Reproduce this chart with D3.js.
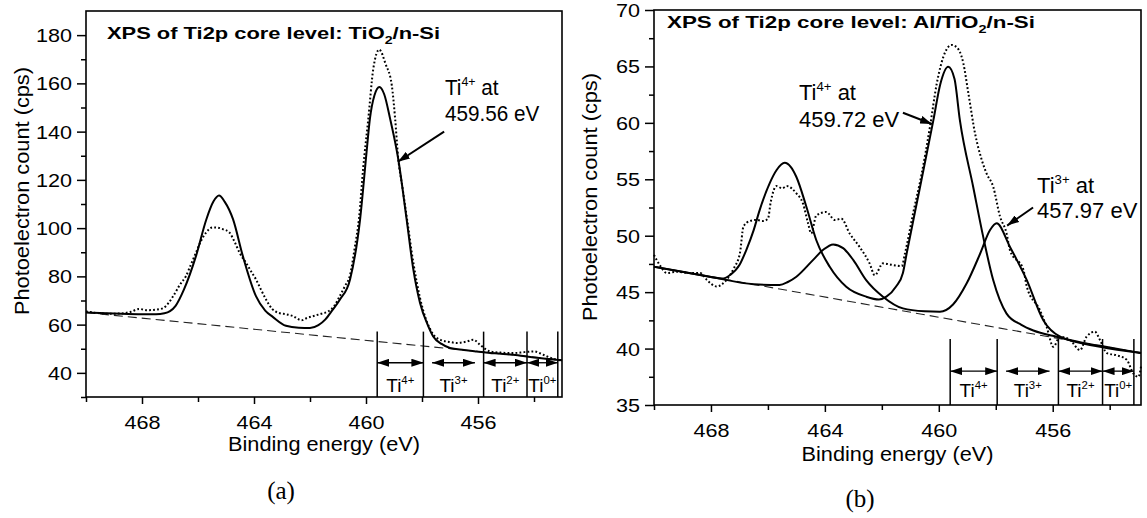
<!DOCTYPE html>
<html>
<head>
<meta charset="utf-8">
<script src="https://cdn.jsdelivr.net/npm/d3@7"></script>
<style>
body { margin: 0; background: #fff; }
text { font-family: "Liberation Sans", Arial, sans-serif; fill: #000; }
</style>
</head>
<body>
<svg id="chart" width="1147" height="518"></svg>
<script>
// ---- data ----
var energyMajor = [468, 464, 460, 456];
var energyMinor = [470, 466, 462, 458, 454];
var leftYMajor = [40, 60, 80, 100, 120, 140, 160, 180];
var leftYMinor = [30, 50, 70, 90, 110, 130, 150, 170];
var rightYMajor = [35, 40, 45, 50, 55, 60, 65, 70];
var rightYMinor = [37.5, 42.5, 47.5, 52.5, 57.5, 62.5, 67.5];

// (a) TiO2/n-Si : [binding energy, counts]
var leftData = [[470,65.5],[469.6,64.8],[469.2,64.5],[468.8,64.6],[468.4,65.3],[468.1,66.5],[467.8,66],[467.5,66.2],[467.25,66.8],[467.05,69],[466.85,72.5],[466.65,76.5],[466.43,80.1],[466.25,85],[466.07,89.9],[465.9,94.5],[465.71,98.2],[465.48,100.3],[465.3,100.2],[465.12,99.6],[464.88,98.2],[464.7,94.5],[464.52,89.9],[464.29,85.7],[464.1,82],[463.93,78.75],[463.75,74.5],[463.57,70.4],[463.35,66.5],[463.1,64.8],[462.85,64.3],[462.6,63.5],[462.3,61.8],[462.1,62.8],[461.9,63.5],[461.6,64.5],[461.35,65.5],[461.15,67.5],[460.93,72],[460.75,76],[460.57,80.5],[460.4,92],[460.25,104],[460.1,125],[459.92,145],[459.74,166],[459.53,174],[459.3,168],[459.08,159.3],[458.96,145.4],[458.85,129],[458.7,117],[458.55,105],[458.3,85],[458.07,71],[457.85,62],[457.6,56],[457.3,53.5],[457.0,52.8],[456.76,52.4],[456.4,53.0],[456.17,53.75],[455.93,51.7],[455.75,50],[455.57,48.9],[455.2,48.4],[454.74,48.2],[454.35,48.6],[454.0,48.9],[453.67,47.5],[453.4,46.2],[453.0,45.0]];
var leftFit = [[470,65.0],[469,64.6],[468,64.3],[467.5,64.3],[467.2,64.7],[467.0,65.6],[466.8,67.8],[466.5,74.6],[466.07,88.5],[465.7,103.7],[465.45,111],[465.25,113.5],[465.05,111],[464.75,103.7],[464.4,88.5],[463.93,71.8],[463.6,65.8],[463.33,63.2],[462.86,59.5],[462.4,58.7],[462.0,58.6],[461.7,59.8],[461.45,62.2],[461.2,66],[460.93,70.4],[460.57,78.75],[460.21,103.75],[459.98,131.5],[459.86,145.4],[459.7,155],[459.52,158.5],[459.35,155.5],[459.14,145.4],[458.85,128.75],[458.55,103.75],[458.31,82.9],[458.07,69],[457.8,60],[457.6,55.1],[457.3,52],[457.0,50.3],[456.5,49.5],[456.05,48.9],[455.4,48.1],[454.75,47.5],[454.0,46.4],[453.0,45.2]];
var leftBackground = [[470,65],[453,45.4]];

// (b) Al/TiO2/n-Si
var rightData = [[470,48.3],[469.8,47.4],[469.55,46.7],[469.2,46.8],[468.74,46.7],[468.38,46.7],[468.15,46.1],[467.8,45.5],[467.45,46.1],[467.2,47.1],[466.98,48.5],[466.86,50.8],[466.64,51.3],[466.4,51.4],[466.17,51.3],[466.0,51.5],[465.9,53.0],[465.7,54.4],[465.5,54.2],[465.34,54.4],[465.0,53.75],[464.77,52.86],[464.59,51.1],[464.48,50.2],[464.3,51.8],[463.95,52.1],[463.65,51.4],[463.42,51.5],[463.13,50.2],[462.78,49.0],[462.43,47.55],[462.25,46.5],[461.96,47.55],[461.61,47.4],[461.3,47.3],[461.19,48.4],[460.9,52.0],[460.6,55.5],[460.31,59.65],[460.07,63.5],[459.84,65.85],[459.55,66.9],[459.37,66.7],[459.14,65.3],[458.96,62.6],[458.73,59.1],[458.49,56.7],[458.32,55.5],[458.09,54.34],[457.85,51.7],[457.62,50.2],[457.5,48.7],[457.03,47.0],[456.91,45.5],[456.45,43.4],[456.21,41.9],[455.98,40.16],[455.74,41.05],[455.39,40.76],[455.04,39.87],[454.81,41.05],[454.52,41.5],[454.34,40.76],[454.1,39.6],[453.75,39.4],[453.4,39.0],[453.17,37.8],[452.99,37.5],[452.9,38.4]];
var rightTi4Fit = [[470,47.25],[469,46.8],[468,46.35],[467.6,46.2],[467.34,46.5],[467.0,47.4],[466.76,48.73],[466.5,50.5],[466.29,52.27],[465.94,54.64],[465.7,55.8],[465.41,56.46],[465.2,56.1],[465.0,55.2],[464.65,52.57],[464.3,49.6],[463.83,47.25],[463.25,45.48],[462.55,44.6],[462.1,44.35],[461.84,44.6],[461.5,45.5],[461.26,46.7],[461.13,48.4],[460.66,54.3],[460.19,60.24],[459.95,63.4],[459.67,64.97],[459.45,63.9],[459.26,60.24],[458.79,54.3],[458.44,49.9],[458.09,46.07],[457.62,43.1],[457.1,42.1],[456.68,41.6],[455.86,41.05],[455,40.55],[454,40.1],[452.9,39.6]];
var rightTi3Fit = [[470,47.25],[468,46.35],[466.5,45.7],[465.59,45.63],[465.3,45.9],[465.0,46.37],[464.42,47.84],[464.07,48.73],[463.71,49.23],[463.36,48.9],[463.0,47.84],[462.55,46.07],[461.96,44.6],[461.26,43.56],[460.5,43.3],[459.96,43.26],[459.5,43.9],[459.02,45.78],[458.55,48.4],[458.2,50.5],[457.97,51.1],[457.5,49.0],[456.91,46.07],[456.33,42.5],[455.74,41.05],[454.34,40.16],[452.9,39.6]];
var rightBackground = [[470,47.25],[452.9,39.6]];

// oxidation-state windows
var regionBounds = [459.6, 457.95, 455.8, 454.25, 453.15];
var regionArrows = [[459.6, 457.95], [457.64, 456.11], [455.8, 454.25], [454.25, 453.15]];
var regionCharges = ["4+", "3+", "2+", "0+"];

var svg = d3.select("#chart");

var defs = svg.append("defs");
defs.append("marker").attr("id", "head").attr("markerUnits", "userSpaceOnUse")
    .attr("viewBox", "0 0 12 8").attr("refX", 12).attr("refY", 4)
    .attr("markerWidth", 12).attr("markerHeight", 8).attr("orient", "auto-start-reverse")
    .append("path").attr("d", "M0,0 L12,4 L0,8 Z").attr("fill", "#000");

// "Ti" with a superscript charge, optionally followed by more text
function tiText(g, x, y, charge, tail, size, anchor, sx) {
    var t = g.append("text").attr("transform", "translate(" + x + "," + y + ") scale(" + (sx || 1) + ",1)")
        .attr("font-size", size).attr("text-anchor", anchor || "start");
    t.append("tspan").text("Ti");
    t.append("tspan").attr("font-size", size * 0.6).attr("dy", -size * 0.42).text(charge);
    if (tail) t.append("tspan").attr("dy", size * 0.42).text(tail);
    return t;
}

// the figure's tick font is wider than Arial: stretch tick labels sideways
function widenTicks(axisG, sx) {
    axisG.selectAll("text").each(function () {
        var t = d3.select(this);
        var tx = +t.attr("x") || 0;
        t.attr("x", 0).attr("transform", "translate(" + tx + ",0) scale(" + sx + ",1)");
    });
}

function drawPanel(p) {
    var g = svg.append("g");
    var x = d3.scaleLinear().domain(p.xDomain).range([p.left, p.right]);
    var y = d3.scaleLinear().domain(p.yDomain).range([p.bottom, p.top]);

    // axes
    var xa = g.append("g").attr("transform", "translate(0," + p.bottom + ")")
        .call(d3.axisBottom(x).tickValues(energyMajor).tickFormat(d3.format("d")).tickSize(7).tickPadding(12));
    var xm = g.append("g").attr("transform", "translate(0," + p.bottom + ")")
        .call(d3.axisBottom(x).tickValues(energyMinor).tickFormat("").tickSize(5));
    var ya = g.append("g").attr("transform", "translate(" + p.left + ",0)")
        .call(d3.axisLeft(y).tickValues(p.yMajor).tickFormat(d3.format("d")).tickSize(9).tickPadding(5));
    var ym = g.append("g").attr("transform", "translate(" + p.left + ",0)")
        .call(d3.axisLeft(y).tickValues(p.yMinor).tickFormat("").tickSize(5));
    [xa, xm, ya, ym].forEach(function (a) {
        a.select(".domain").remove();
        a.selectAll("line").attr("stroke", "#000").attr("stroke-width", 1.5);
        a.selectAll("text").attr("font-size", 18).attr("font-family", "Liberation Sans, Arial, sans-serif").attr("fill", "#000");
    });
    ya.selectAll("text").attr("dy", "0.36em");
    widenTicks(xa, 1.2);
    widenTicks(ya, 1.2);

    g.append("rect").attr("x", p.left).attr("y", p.top)
        .attr("width", p.right - p.left).attr("height", p.bottom - p.top)
        .attr("fill", "none").attr("stroke", "#000").attr("stroke-width", 1.6);

    var line = d3.line().x(function (d) { return x(d[0]); }).y(function (d) { return y(d[1]); })
        .curve(d3.curveMonotoneX);

    g.append("path").datum(p.background).attr("d", line).attr("fill", "none")
        .attr("stroke", "#222").attr("stroke-width", 1.1).attr("stroke-dasharray", "9,5");
    g.append("path").datum(p.data).attr("d", line).attr("fill", "none")
        .attr("stroke", "#000").attr("stroke-width", 2).attr("stroke-dasharray", "1.8,2.2");
    p.fits.forEach(function (f) {
        g.append("path").datum(f).attr("d", line).attr("fill", "none")
            .attr("stroke", "#000").attr("stroke-width", 2);
    });

    // oxidation state windows
    regionBounds.forEach(function (e) {
        g.append("line").attr("x1", x(e)).attr("x2", x(e))
            .attr("y1", p.bottom).attr("y2", y(p.regionTop))
            .attr("stroke", "#000").attr("stroke-width", 1.5);
    });
    regionArrows.forEach(function (r, i) {
        g.append("line").attr("x1", x(r[0])).attr("x2", x(r[1]))
            .attr("y1", y(p.arrowLevel)).attr("y2", y(p.arrowLevel))
            .attr("stroke", "#000").attr("stroke-width", 1.3)
            .attr("marker-start", "url(#head)").attr("marker-end", "url(#head)");
        var cx = (x(regionBounds[i]) + x(regionBounds[i + 1])) / 2;
        tiText(g, cx, y(p.labelLevel), regionCharges[i], null, 19, "middle");
    });

    // notes with arrows
    p.notes.forEach(function (n) {
        tiText(g, x(n.at[0]), y(n.at[1]), n.charge, " at", 22, "start", p.noteScale);
        g.append("text").attr("transform", "translate(" + x(n.at[0]) + "," + y(n.at[2]) + ") scale(" + p.noteScale + ",1)")
            .attr("font-size", 22).text(n.value);
        g.append("line").attr("x1", x(n.from[0])).attr("y1", y(n.from[1]))
            .attr("x2", x(n.to[0])).attr("y2", y(n.to[1]))
            .attr("stroke", "#000").attr("stroke-width", 2)
            .attr("marker-end", "url(#head)");
    });

    // title
    var t = g.append("text").attr("x", p.left + p.titleDx).attr("y", p.titleY)
        .attr("font-size", 17).attr("font-weight", "bold")
        .attr("textLength", p.titleWidth).attr("lengthAdjust", "spacingAndGlyphs");
    t.append("tspan").text(p.title[0]);
    t.append("tspan").attr("font-size", 11).attr("dy", 5).text("2");
    t.append("tspan").attr("dy", -5).text(p.title[1]);

    // axis titles
    g.append("text").attr("x", (p.left + p.right) / 2).attr("y", p.xTitleY)
        .attr("text-anchor", "middle").attr("font-size", 20.5).text("Binding energy (eV)")
        .attr("textLength", 192).attr("lengthAdjust", "spacingAndGlyphs");
    g.append("text").attr("transform", "translate(" + p.yTitleX + "," + p.yTitleMid + ") rotate(-90)")
        .attr("text-anchor", "middle").attr("font-size", 21).text("Photoelectron count (cps)")
        .attr("textLength", 248).attr("lengthAdjust", "spacingAndGlyphs");

    g.append("text").attr("x", p.capX).attr("y", p.capY).attr("text-anchor", "middle")
        .style("font-family", "Liberation Serif, Times New Roman, serif").attr("font-size", 25)
        .text(p.caption);
}

drawPanel({
    left: 86, right: 562, top: 11, bottom: 397,
    xDomain: [470, 453], yDomain: [30, 190],
    yMajor: leftYMajor, yMinor: leftYMinor,
    data: leftData, fits: [leftFit], background: leftBackground,
    regionTop: 57.1, arrowLevel: 44.2, labelLevel: 32.0,
    notes: [{at: [457.18, 155.2, 144.6], charge: "4+", value: "459.56 eV",
             from: [457.21, 140], to: [458.86, 127.5]}],
    noteScale: 0.94,
    title: ["XPS of Ti2p core level: TiO", "/n-Si"], titleDx: 21, titleY: 39, titleWidth: 333,
    xTitleY: 451, yTitleX: 29, yTitleMid: 191,
    caption: "(a)", capX: 281, capY: 499
});

drawPanel({
    left: 654, right: 1141, top: 10, bottom: 405,
    xDomain: [470, 452.9], yDomain: [35, 70],
    yMajor: rightYMajor, yMinor: rightYMinor,
    data: rightData, fits: [rightTi4Fit, rightTi3Fit], background: rightBackground,
    regionTop: 40.85, arrowLevel: 38.0, labelLevel: 35.7,
    notes: [{at: [464.91, 62.0, 59.6], charge: "4+", value: "459.72 eV",
             from: [461.26, 60.9], to: [460.24, 59.9]},
            {at: [456.55, 53.8, 51.56], charge: "3+", value: "457.97 eV",
             from: [456.69, 52.5], to: [457.6, 50.9]}],
    noteScale: 1.0,
    title: ["XPS of Ti2p core level: Al/TiO", "/n-Si"], titleDx: 13, titleY: 28, titleWidth: 368,
    xTitleY: 461, yTitleX: 597, yTitleMid: 197,
    caption: "(b)", capX: 860, capY: 507
});
</script>
</body>
</html>
